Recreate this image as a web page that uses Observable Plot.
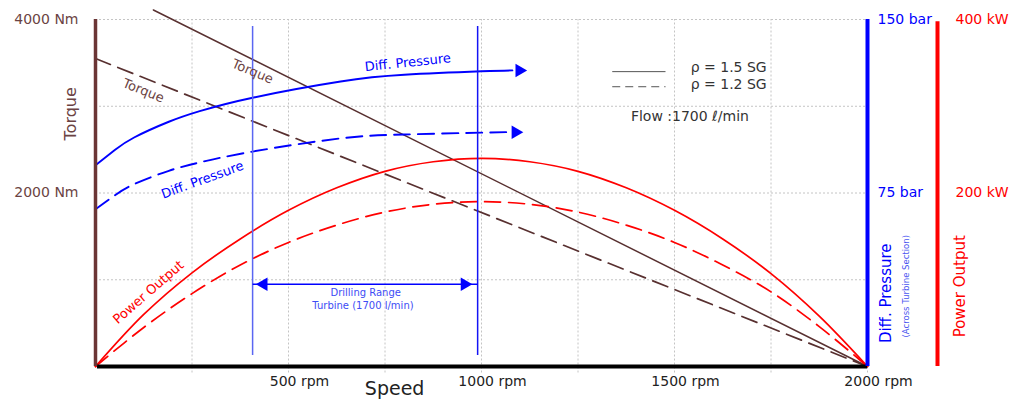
<!DOCTYPE html>
<html><head><meta charset="utf-8">
<script src="https://cdn.jsdelivr.net/npm/d3@7"></script>
<script src="https://cdn.jsdelivr.net/npm/@observablehq/plot@0.6"></script>
<style>body{margin:0;background:#fff}svg{font-family:"DejaVu Sans",sans-serif}</style>
</head><body><div id="chart"></div>
<script>
// ---------- data ----------
const gridRpm = [250, 500, 750, 1000, 1250, 1500, 1750, 2000];
const gridNm = [1000, 2000, 3000, 4000];
const xTicks = [500, 1000, 1500, 2000];
const xTickLabels = ["500 rpm", "1000 rpm", "1500 rpm", "2000 rpm"];
const torqueTicks = [4000, 2000];
const torqueTickLabels = ["4000 Nm", "2000 Nm"];
const pressureTicks = [150, 75];
const pressureTickLabels = ["150 bar", "75 bar"];
const powerTicks = [400, 200];
const powerTickLabels = ["400 kW", "200 kW"];

// torque (Nm)
const torqueRpm15 = [150, 2000];
const torque15 = [4110, 0];
const torqueRpm12 = [0, 2000];
const torque12 = [3550, 0];

// differential pressure (bar)
const pressRpm15 = [0, 50, 100, 190, 270, 410, 635, 800, 1000, 1080];
const press15 = [87, 93.6, 99, 105.8, 110.4, 116.3, 123.2, 126.1, 127.6, 128];
const pressRpm12 = [0, 50, 100, 190, 272, 410, 635, 800, 1000, 1070];
const press12 = [68, 74, 78.8, 84.6, 88.3, 93, 98.6, 100.3, 101.1, 101.3];

// power output (kW)
const powerRpm = [0, 125, 250, 375, 500, 625, 750, 875, 1000, 1125, 1250, 1375, 1500, 1625, 1750, 1875, 2000];
const power15 = [0, 60, 108, 147, 180, 206, 225, 236, 240, 236, 225, 206, 180, 147, 107, 58, 0];
const power12 = [0, 45, 84, 117, 143, 163, 178, 187, 190, 187, 178, 163, 143, 117, 86, 46, 0];

// drilling range
const drillRange = [407, 990];
const curveLabels = ["Torque", "Torque", "Diff. Pressure", "Diff. Pressure", "Power Output"];

// ---------- helpers ----------
const P2Y = 4000 / 150;   // bar -> torque-scale units
const KW2Y = 10;          // kW -> torque-scale units
const zipXY = (xs, ys, k = 1) => xs.map((x, i) => ({x, y: ys[i] * k}));

const brown = "#583030";
const brownText = "#6b4343";
const blue = "#0000ff";
const red = "#ff0000";

const t15 = zipXY(torqueRpm15, torque15);
const t12 = zipXY(torqueRpm12, torque12);
const p15 = zipXY(pressRpm15, press15, P2Y);
const p12 = zipXY(pressRpm12, press12, P2Y);
const w15 = zipXY(powerRpm, power15, KW2Y);
const w12 = zipXY(powerRpm, power12, KW2Y);

const dash = "16,8";

const chart = Plot.plot({
  width: 1014, height: 399,
  marginLeft: 95, marginRight: 147, marginTop: 19, marginBottom: 33,
  x: {domain: [0, 2000], axis: null},
  y: {domain: [0, 4000], axis: null},
  style: {background: "#fff", fontFamily: "DejaVu Sans, sans-serif"},
  marks: [
    // grid
    Plot.ruleX(gridRpm, {x: d => d, y1: -75, y2: 4000, stroke: "#c4c4c4", strokeDasharray: "2,2", strokeWidth: 1}),
    Plot.ruleY(gridNm, {y: d => d, x1: 0, x2: 2000, stroke: "#c4c4c4", strokeDasharray: "2,2", strokeWidth: 1}),

    // torque
    Plot.line(t15, {x: "x", y: "y", stroke: brown, strokeWidth: 1.5}),
    Plot.line(t12, {x: "x", y: "y", stroke: brown, strokeWidth: 1.7, strokeDasharray: dash}),

    // power
    Plot.line(w15, {x: "x", y: "y", curve: "catmull-rom", stroke: red, strokeWidth: 1.7}),
    Plot.line(w12, {x: "x", y: "y", curve: "catmull-rom", stroke: red, strokeWidth: 1.7, strokeDasharray: dash}),

    // differential pressure
    Plot.line(p15, {x: "x", y: "y", curve: "natural", stroke: blue, strokeWidth: 1.9}),
    Plot.line(p12, {x: "x", y: "y", curve: "natural", stroke: blue, strokeWidth: 1.9, strokeDasharray: dash}),
    Plot.dot([p15[p15.length - 1], p12[p12.length - 1]], {x: "x", y: "y", dx: 7, symbol: "triangle", r: 5, rotate: 90, fill: blue, stroke: "none"}),

    // drilling range verticals
    Plot.ruleX([drillRange[0]], {x: d => d, y1: 127, y2: 3920, stroke: "#5a66f2", strokeWidth: 1.5}),
    Plot.ruleX([drillRange[1]], {x: d => d, y1: 127, y2: 3920, stroke: "#1414f5", strokeWidth: 1.5}),
    Plot.link([drillRange], {x1: d => d[0], x2: d => d[1], y1: 948, y2: 948, stroke: blue, strokeWidth: 1.5}),
    Plot.dot([drillRange[0]], {x: d => d, y: 948, dx: 11, symbol: "triangle", r: 5, rotate: -90, fill: blue, stroke: "none"}),
    Plot.dot([drillRange[1]], {x: d => d, y: 948, dx: -13, symbol: "triangle", r: 5, rotate: 90, fill: blue, stroke: "none"}),
    Plot.text(["Drilling Range"], {x: 700, y: 855, text: d => d, fill: "#3d4cf5", fontSize: 10}),
    Plot.text(["Turbine (1700 l/min)"], {x: 693, y: 705, text: d => d, fill: "#3d4cf5", fontSize: 10}),

    // curve labels
    Plot.text([curveLabels[0]], {x: 407, y: 3399, text: d => d, rotate: 23, fill: brownText, fontSize: 13}),
    Plot.text([curveLabels[1]], {x: 124, y: 3179, text: d => d, rotate: 22, fill: brownText, fontSize: 13}),
    Plot.text([curveLabels[2]], {x: 809, y: 3503, text: d => d, rotate: -6, fill: blue, fontSize: 13}),
    Plot.text([curveLabels[3]], {x: 277, y: 2150, text: d => d, rotate: -20, fill: blue, fontSize: 13}),
    Plot.text([curveLabels[4]], {x: 137, y: 855, text: d => d, rotate: -41, fill: red, fontSize: 13}),

    // legend
    Plot.ruleY([3399], {y: d => d, x1: 1340, x2: 1478, stroke: "#555", strokeWidth: 1}),
    Plot.ruleY([3225], {y: d => d, x1: 1340, x2: 1478, stroke: "#555", strokeWidth: 1, strokeDasharray: "8,5"}),
    Plot.text(["ρ = 1.5 SG"], {x: 1542, y: 3445, text: d => d, textAnchor: "start", fill: "#333", fontSize: 14}),
    Plot.text(["ρ = 1.2 SG"], {x: 1542, y: 3249, text: d => d, textAnchor: "start", fill: "#333", fontSize: 14}),
    Plot.text(["Flow :1700 ℓ/min"], {x: 1387, y: 2879, text: d => d, textAnchor: "start", fill: "#333", fontSize: 14}),

    // axes lines
    Plot.ruleY([0], {y: d => d, x1: 5, x2: 2000, stroke: "#000", strokeWidth: 4}),
    Plot.ruleX([0], {x: d => d, y1: 0, y2: 4000, stroke: "#6b3535", strokeWidth: 3.5}),
    Plot.ruleX([2000], {x: d => d, y1: 0, y2: 4000, stroke: blue, strokeWidth: 4}),
    Plot.ruleX([2000], {x: d => d, dx: 70, y1: 0, y2: 3975, stroke: red, strokeWidth: 4}),

    // tick labels
    Plot.text(xTicks, {x: d => d, y: 0, text: (d, i) => xTickLabels[i], dy: 15, dx: 11, fill: "#222", fontSize: 14}),
    Plot.text(["Speed"], {x: 775, y: 0, text: d => d, dy: 22, fill: "#222", fontSize: 19}),
    Plot.text(torqueTicks, {x: 0, y: d => d, text: (d, i) => torqueTickLabels[i], dx: -17, textAnchor: "end", fill: brownText, fontSize: 14}),
    Plot.text(["Torque"], {x: 0, y: 2913, text: d => d, dx: -25, rotate: -90, fill: brownText, fontSize: 16}),
    Plot.text(pressureTicks, {x: 2000, y: d => d * P2Y, text: (d, i) => pressureTickLabels[i], dx: 10, textAnchor: "start", fill: blue, fontSize: 14}),
    Plot.text(["Diff. Pressure"], {x: 2000, y: 844, text: d => d, dx: 19, rotate: -90, fill: blue, fontSize: 15}),
    Plot.text(["(Across Turbine Section)"], {x: 2000, y: 925, text: d => d, dx: 39, rotate: -90, fill: "#4a55f0", fontSize: 8.5}),
    Plot.text(powerTicks, {x: 2000, y: d => d * KW2Y, text: (d, i) => powerTickLabels[i], dx: 88, textAnchor: "start", fill: red, fontSize: 14}),
    Plot.text(["Power Output"], {x: 2000, y: 925, text: d => d, dx: 93, rotate: -90, fill: red, fontSize: 15})
  ]
});
document.getElementById("chart").appendChild(chart);
</script>
</body></html>
